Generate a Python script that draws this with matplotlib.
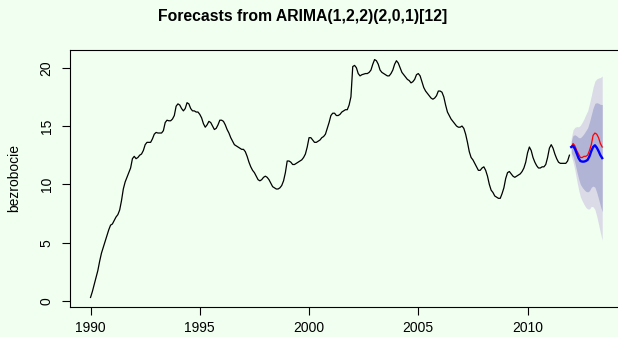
import numpy as np
import matplotlib
matplotlib.use("Agg")
import matplotlib.pyplot as plt

plt.rcParams['font.family'] = ['Liberation Sans', 'DejaVu Sans']

# monthly unemployment rate, Jan 1990 - Dec 2011
bezrobocie = [
    0.3, 0.8, 1.4, 2.0, 2.6, 3.4, 4.1, 4.6, 5.1, 5.6, 6.1, 6.5,          # 1990
    6.6, 6.9, 7.2, 7.4, 7.8, 8.6, 9.6, 10.2, 10.6, 11.0, 11.4, 12.2,     # 1991
    12.4, 12.2, 12.3, 12.5, 12.6, 12.9, 13.4, 13.6, 13.6, 13.6, 13.9, 14.3,  # 1992
    14.45, 14.4, 14.4, 14.4, 14.6, 15.3, 15.5, 15.45, 15.45, 15.6, 15.9, 16.7,  # 1993
    16.9, 16.8, 16.5, 16.3, 16.5, 17.0, 16.9, 16.5, 16.3, 16.3, 16.2, 16.2,  # 1994
    16.0, 15.7, 15.2, 14.9, 15.1, 15.4, 15.3, 15.0, 14.7, 14.8, 15.1, 15.5,  # 1995
    15.5, 15.4, 15.1, 14.7, 14.4, 14.0, 13.7, 13.4, 13.3, 13.2, 13.1, 13.0,  # 1996
    13.0, 12.8, 12.4, 11.9, 11.5, 11.2, 11.0, 10.7, 10.4, 10.3, 10.4, 10.6,  # 1997
    10.7, 10.6, 10.4, 10.1, 9.8, 9.7, 9.6, 9.6, 9.7, 9.9, 10.3, 11.0,    # 1998
    12.0, 12.0, 11.9, 11.7, 11.7, 11.8, 11.9, 12.0, 12.1, 12.3, 12.6, 13.2,  # 1999
    14.0, 14.0, 13.8, 13.6, 13.6, 13.7, 13.8, 14.0, 14.1, 14.3, 14.8, 15.3,  # 2000
    15.9, 16.1, 16.1, 15.9, 15.9, 16.0, 16.2, 16.3, 16.4, 16.4, 16.8, 17.5,  # 2001
    20.1, 20.2, 20.0, 19.5, 19.3, 19.4, 19.45, 19.5, 19.5, 19.6, 19.8, 20.3,  # 2002
    20.7, 20.6, 20.3, 19.8, 19.6, 19.5, 19.4, 19.3, 19.3, 19.5, 19.8, 20.3,  # 2003
    20.6, 20.4, 20.0, 19.6, 19.4, 19.2, 19.0, 18.9, 18.7, 18.8, 19.0, 19.4,  # 2004
    19.5, 19.3, 18.8, 18.3, 18.0, 17.8, 17.6, 17.4, 17.3, 17.4, 17.6, 18.0,  # 2005
    18.0, 17.9, 17.5, 16.8, 16.2, 15.9, 15.6, 15.4, 15.2, 15.0, 14.9, 14.9,  # 2006
    15.0, 14.8, 14.3, 13.6, 12.8, 12.3, 12.1, 11.8, 11.5, 11.2, 11.2, 11.4,  # 2007
    11.5, 11.2, 10.7, 10.0, 9.5, 9.3, 9.0, 8.9, 8.8, 8.8, 9.2, 9.7,      # 2008
    10.5, 11.0, 11.1, 10.9, 10.7, 10.6, 10.7, 10.8, 10.9, 11.1, 11.4, 11.9,  # 2009
    12.7, 13.2, 12.9, 12.3, 11.9, 11.6, 11.4, 11.4, 11.5, 11.5, 11.7, 12.3,  # 2010
    13.1, 13.4, 13.1, 12.6, 12.2, 11.9, 11.8, 11.8, 11.8, 11.8, 12.0, 12.5,  # 2011
]

# forecast Jan 2012 - Jun 2013
prognoza = [13.2, 13.3, 13.05, 12.65, 12.25, 12.0, 11.95, 11.95, 12.0,
            12.1, 12.4, 12.85, 13.2, 13.35, 13.15, 12.85, 12.5, 12.25]
lo80 = [12.7, 12.4, 11.85, 11.15, 10.5, 10.0, 9.75, 9.55, 9.4,
        9.35, 9.45, 9.75, 9.85, 9.75, 9.3, 8.75, 8.15, 7.65]
hi80 = [13.7, 14.2, 14.25, 14.15, 14.0, 14.0, 14.15, 14.35, 14.6,
        14.85, 15.35, 15.95, 16.55, 16.95, 17.0, 16.95, 16.85, 16.85]
lo95 = [12.43, 11.92, 11.21, 10.35, 9.57, 8.94, 8.58, 8.28, 8.02,
        7.89, 7.89, 8.11, 8.07, 7.84, 7.26, 6.58, 5.84, 5.21]
hi95 = [13.97, 14.68, 14.89, 14.95, 14.93, 15.06, 15.32, 15.62, 15.98,
        16.31, 16.91, 17.59, 18.33, 18.86, 19.04, 19.12, 19.16, 19.29]
# observed values for the forecast period
rzeczywiste = [13.2, 13.5, 13.3, 12.9, 12.6, 12.3, 12.3, 12.4, 12.4,
               12.5, 12.9, 13.4, 14.2, 14.4, 14.3, 14.0, 13.5, 13.2]

t = 1990 + np.arange(len(bezrobocie)) / 12
tf = 2012 + np.arange(len(prognoza)) / 12

bg = '#F0FFF0'
fig = plt.figure(figsize=(6.18, 3.37), dpi=100, facecolor=bg)
ax = fig.add_axes([70 / 618, 30 / 337, 552.6 / 618, 257 / 337], facecolor=bg)

ax.fill_between(tf, lo95, hi95, color='#DBDBE7', lw=0)
ax.fill_between(tf, lo80, hi80, color='#B1B4D4', lw=0)
ax.plot(t, bezrobocie, color='black', lw=0.9)
ax.plot(tf, rzeczywiste, color='red', lw=0.9)
ax.plot(tf, prognoza, color='blue', lw=1.7)

ax.set_xlim(1989.06, 2014.35)
ax.set_ylim(-0.52, 21.52)
ax.set_xticks([1990, 1995, 2000, 2005, 2010])
ax.set_yticks([0, 5, 10, 15, 20])
for s in ax.spines.values():
    s.set_linewidth(0.8)
ax.tick_params(axis='both', length=5.8, width=0.8, labelsize=10)
ax.tick_params(axis='x', pad=4)
ax.tick_params(axis='y', pad=6)
for lab in ax.get_yticklabels():
    lab.set_rotation(90)
    lab.set_va('center')
ax.set_ylabel('bezrobocie', fontsize=10, labelpad=13)

fig.text(303 / 618, 1 - 16 / 337, 'Forecasts from ARIMA(1,2,2)(2,0,1)[12]',
         ha='center', va='center', fontsize=11.3, fontweight='bold')

fig.savefig('out.png', dpi=100, facecolor=bg)
